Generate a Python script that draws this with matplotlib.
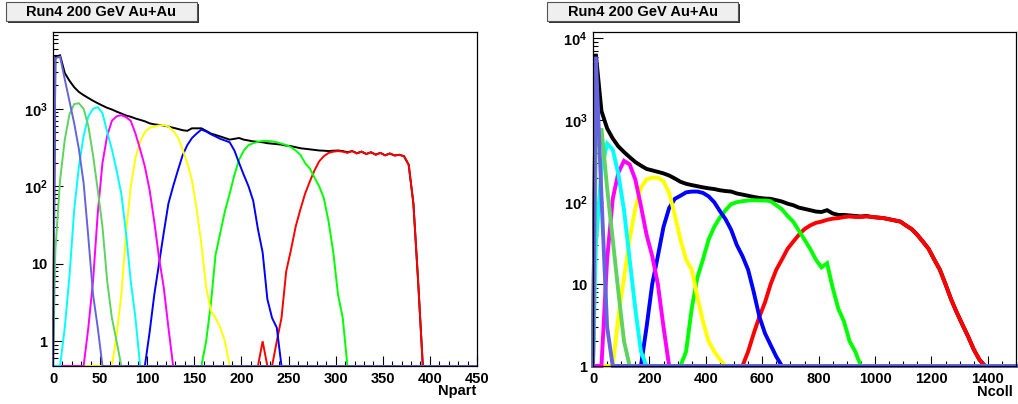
import numpy as np
import matplotlib
matplotlib.use('Agg')
import matplotlib.pyplot as plt
from matplotlib.patches import Rectangle
from matplotlib.ticker import LogLocator, MultipleLocator, NullFormatter

plt.rcParams['font.family'] = ['Liberation Sans', 'DejaVu Sans']
plt.rcParams['font.weight'] = 'bold'
plt.rcParams['mathtext.fontset'] = 'custom'
plt.rcParams['mathtext.rm'] = 'Liberation Sans:bold'
plt.rcParams['mathtext.bf'] = 'Liberation Sans:bold'
plt.rcParams['mathtext.it'] = 'Liberation Sans:bold'

TITLE = "Run4 200 GeV Au+Au"

# ---------------- Npart histograms (bin width 5, range 0-450) ----------------
npart_bin = 5
npart_max = 450
npart_black_start = 0
npart_black = [4700, 4900, 2900, 2300, 1900, 1650, 1500, 1380, 1270, 1180,
               1100, 1030, 980, 920, 870, 820, 790, 750, 720, 690,
               650, 630, 620, 610, 590, 570, 550, 530, 520, 560,
               560, 560, 520, 480, 460, 440, 420, 400, 410, 420,
               400, 390, 380, 375, 370, 360, 355, 350, 345, 335,
               330, 320, 310, 305, 300, 295, 290, 288, 285, 288,
               290, 285, 275, 285, 268, 280, 262, 275, 257, 270,
               252, 265, 250, 255, 245, 190, 60, 6]
npart_slate_start = 0
npart_slate = [4500, 4700, 2400, 1250, 650, 300, 110, 22, 4, 1.5]
npart_lgreen_start = 0
npart_lgreen = [15, 120, 400, 850, 1150, 1180, 1000, 600, 250, 90, 30, 6, 2, 1]
npart_cyan_start = 10
npart_cyan = [1.5, 7, 50, 180, 450, 800, 1000, 1050, 880, 500, 300, 160, 80, 25, 6, 2]
npart_magenta_start = 35
npart_magenta = [1.5, 6, 45, 200, 450, 700, 800, 830, 780, 700, 480, 300, 180, 90, 35, 12, 5, 1.5]
npart_yellow_start = 65
npart_yellow = [1.2, 4, 25, 100, 230, 380, 500, 570, 590, 610, 620, 590, 520, 430, 300, 200,
                120, 50, 18, 5, 2.5, 2, 1.5, 1]
npart_blue_start = 100
npart_blue = [1.3, 4, 10, 25, 60, 100, 160, 250, 340, 420, 480, 540, 510, 470, 440, 410,
              390, 370, 290, 200, 140, 100, 65, 28, 14, 3.5, 2, 1.5]
npart_green_start = 160
npart_green = [1, 3, 13, 25, 48, 80, 140, 220, 290, 340, 360, 375, 385, 385, 380, 370,
               355, 340, 320, 290, 255, 200, 170, 130, 100, 70, 35, 14, 4, 2]
npart_red_start = 220
npart_red = [1, 0, 0, 1, 2, 8, 15, 30, 50, 80, 115, 160, 210, 245, 270, 280, 285, 280,
             270, 285, 265, 280, 260, 275, 255, 270, 250, 265, 250, 255, 245, 190, 60, 6]

# ---------------- Ncoll histograms (bin width 20, range 0-1500) ----------------
ncoll_bin = 20
ncoll_max = 1500
ncoll_black_start = 0
ncoll_black = [6500, 1300, 800, 600, 480, 410, 355, 310, 280, 255,
               245, 235, 225, 212, 195, 178, 168, 162, 157, 152,
               148, 145, 140, 137, 135, 128, 124, 120, 116, 113,
               111, 110, 106, 102, 96, 92, 86, 83, 80, 77,
               76, 80, 73, 70, 70, 69, 68, 67, 68, 66,
               65, 64, 62, 60, 58, 52, 47, 40, 33, 27,
               20, 15, 10, 6.5, 4.5, 3.2, 2.3, 1.6, 1.2]
ncoll_slate_start = 0
ncoll_slate = [6000, 120, 3]
ncoll_lgreen_start = 0
ncoll_lgreen = [500, 800, 150, 35, 8, 2]
ncoll_cyan_start = 0
ncoll_cyan = [30, 250, 520, 440, 220, 80, 20, 5, 1.5]
ncoll_magenta_start = 20
ncoll_magenta = [1, 20, 110, 230, 320, 290, 190, 90, 40, 22, 10, 3, 1]
ncoll_yellow_start = 80
ncoll_yellow = [4, 12, 35, 85, 150, 190, 200, 200, 180, 130, 70, 35, 20, 15, 7, 3.5, 2, 1.5, 1.2, 0, 1]
ncoll_blue_start = 180
ncoll_blue = [3, 10, 22, 50, 85, 110, 120, 132, 135, 135, 130, 118, 100, 78, 62, 46, 30, 22,
              15, 8, 4, 2.5, 1.8, 1.3, 1, 1]
ncoll_green_start = 320
ncoll_green = [1.5, 5, 12, 20, 35, 50, 65, 80, 95, 100, 103, 105, 106, 105, 105, 103, 92, 82,
               68, 58, 45, 35, 27, 20, 16, 18, 9, 5, 3.5, 2, 1.5, 1, 1]
ncoll_red_start = 540
ncoll_red = [1.5, 2.5, 4, 6, 10, 15, 20, 27, 33, 40, 47, 52, 56, 58, 61, 63, 64, 66, 67, 66,
             66, 67, 66, 65, 64, 62, 60, 58, 52, 47, 40, 33, 27, 20, 15, 10, 6.5, 4.5, 3.2,
             2.3, 1.6, 1.2]

COLORS = {
    'black': '#000000', 'red': '#ff0000', 'green': '#00ff00', 'blue': '#0000ff',
    'yellow': '#ffff00', 'magenta': '#ff00ff', 'cyan': '#00ffff',
    'lgreen': '#5fd35f', 'slate': '#6464dc',
}

W, H = 1018, 404
fig = plt.figure(figsize=(W / 100, H / 100), dpi=100)


def fx(px):
    return px / W


def fy(py):
    return 1 - py / H


def full(vals, start, width, xmax):
    n = int(round(xmax / width))
    arr = np.zeros(n)
    i0 = int(round(start / width))
    arr[i0:i0 + len(vals)] = vals
    return arr


def draw_panel(rect, series, width, xmax, ymin, ymax, lw, xmajor, xminor, ylabels):
    ax = fig.add_axes(rect)
    n = int(round(xmax / width))
    centers = (np.arange(n) + 0.5) * width
    xs = np.concatenate([[0.0], centers, [float(xmax)]])
    for name, vals, start in series:
        arr = np.maximum(full(vals, start, width, xmax), ymin)
        ys = np.concatenate([[ymin], arr, [ymin]])
        ax.plot(xs, ys, color=COLORS[name], lw=lw, clip_on=False,
                solid_joinstyle='miter')
    ax.set_yscale('log')
    ax.set_xlim(0, xmax)
    ax.set_ylim(ymin, ymax)
    ax.xaxis.set_major_locator(MultipleLocator(xmajor))
    ax.xaxis.set_minor_locator(MultipleLocator(xminor))
    yt = list(ylabels.keys())
    ax.set_yticks(yt, [ylabels[k] for k in yt])
    ax.yaxis.set_minor_locator(LogLocator(base=10, subs=np.arange(2, 10)))
    ax.yaxis.set_minor_formatter(NullFormatter())
    ax.tick_params(which='both', direction='in', top=False, right=False,
                   labelsize=10.5, width=0.8, color='black')
    ax.tick_params(which='major', length=7.2, pad=4)
    ax.tick_params(which='minor', length=3.6)
    for lab in ax.get_xticklabels() + ax.get_yticklabels():
        lab.set_fontweight('bold')
    for sp in ax.spines.values():
        sp.set_linewidth(0.9)
        sp.set_color('black')
    return ax


ylab_left = {1: '1', 10: '10', 100: r'$\mathbf{10^{2}}$', 1000: r'$\mathbf{10^{3}}$'}
ylab_right = {1: '1', 10: '10', 100: r'$\mathbf{10^{2}}$', 1000: r'$\mathbf{10^{3}}$',
              10000: r'$\mathbf{10^{4}}$'}

npart_series = [('black', npart_black, npart_black_start), ('red', npart_red, npart_red_start),
                ('green', npart_green, npart_green_start), ('blue', npart_blue, npart_blue_start),
                ('yellow', npart_yellow, npart_yellow_start),
                ('magenta', npart_magenta, npart_magenta_start),
                ('cyan', npart_cyan, npart_cyan_start), ('lgreen', npart_lgreen, npart_lgreen_start),
                ('slate', npart_slate, npart_slate_start)]
ncoll_series = [('black', ncoll_black, ncoll_black_start), ('red', ncoll_red, ncoll_red_start),
                ('green', ncoll_green, ncoll_green_start), ('blue', ncoll_blue, ncoll_blue_start),
                ('yellow', ncoll_yellow, ncoll_yellow_start),
                ('magenta', ncoll_magenta, ncoll_magenta_start),
                ('cyan', ncoll_cyan, ncoll_cyan_start), ('lgreen', ncoll_lgreen, ncoll_lgreen_start),
                ('slate', ncoll_slate, ncoll_slate_start)]

draw_panel([fx(53), fy(366), fx(477) - fx(53), fy(32) - fy(366)], npart_series,
           npart_bin, npart_max, 0.48, 9800, 1.4, 50, 10, ylab_left)
draw_panel([fx(593), fy(366), fx(1016) - fx(593), fy(32) - fy(366)], ncoll_series,
           ncoll_bin, ncoll_max, 1, 12000, 2.8, 200, 50, ylab_right)

fig.text(fx(476), fy(395), 'Npart', ha='right', va='baseline', fontsize=10.5, fontweight='bold')
fig.text(fx(1013), fy(396), 'Ncoll', ha='right', va='baseline', fontsize=10.5, fontweight='bold')

# title boxes
for x0 in (6, 547):
    y0, bw, bh = 2, 191, 19
    fig.patches.append(Rectangle((fx(x0 + 2), fy(y0 + bh + 2)), fx(bw), fy(0) - fy(bh),
                                 transform=fig.transFigure, facecolor='#333333',
                                 edgecolor='none', zorder=1))
    fig.patches.append(Rectangle((fx(x0), fy(y0 + bh)), fx(bw), fy(0) - fy(bh),
                                 transform=fig.transFigure, facecolor='#efefef',
                                 edgecolor='#555555', lw=0.8, zorder=2))
    fig.text(fx(x0 + bw / 2), fy(y0 + bh / 2 + 1), TITLE, ha='center', va='center',
             fontsize=10.5, fontweight='bold', zorder=3)

fig.savefig('out.png', dpi=100)
